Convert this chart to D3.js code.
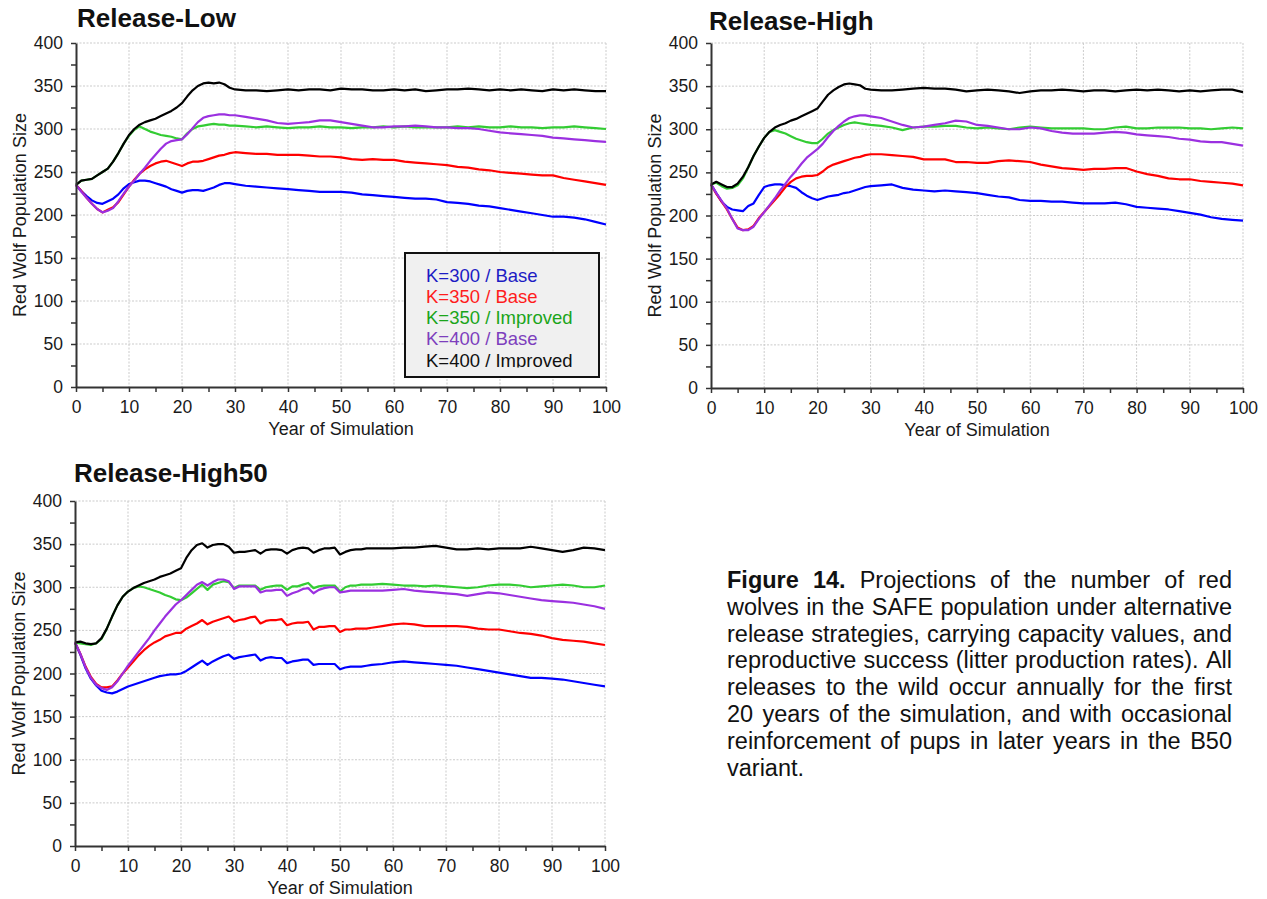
<!DOCTYPE html>
<html>
<head>
<meta charset="utf-8">
<script src="https://cdn.jsdelivr.net/npm/d3@7"></script>
<style>
  html, body { margin: 0; padding: 0; background: #fff; }
  svg { display: block; font-family: "Liberation Sans", Arial, sans-serif; }
</style>
</head>
<body>
<div id="canvas"></div>
<script>
"use strict";

/* drawing size */
const svgWidth = 1267;
const svgHeight = 899;

/* ---- data ---- */
const seriesNames = ["K=300 / Base", "K=350 / Base", "K=350 / Improved", "K=400 / Base", "K=400 / Improved"];
const xTickValues = [0, 10, 20, 30, 40, 50, 60, 70, 80, 90, 100];
const yTickValues = [0, 50, 100, 150, 200, 250, 300, 350, 400];

// years for Release-Low and Release-High (yearly to 30, then every 2 years)
const yearsA = [0,1,2,3,4,5,6,7,8,9,10,11,12,13,14,15,16,17,18,19,20,21,22,23,24,25,26,27,28,29,30,
  32,34,36,38,40,42,44,46,48,50,52,54,56,58,60,62,64,66,68,70,72,74,76,78,80,82,84,86,88,90,92,94,96,98,100];
// years for Release-High50 (yearly to 55, then every 2 years)
const yearsB = [0,1,2,3,4,5,6,7,8,9,10,11,12,13,14,15,16,17,18,19,20,21,22,23,24,25,26,27,28,29,
  30,31,32,33,34,35,36,37,38,39,40,41,42,43,44,45,46,47,48,49,50,51,52,53,54,55,
  56,58,60,62,64,66,68,70,72,74,76,78,80,82,84,86,88,90,92,94,96,98,100];

// Release-Low
const lowBlue = [235,228,222,217,214,213,216,219,224,231,236,238,240,240,239,237,235,233,230,228,226,228,229,229,228,230,232,235,237,237,236,
  234,233,232,231,230,229,228,227,227,227,226,224,223,222,221,220,219,219,218,215,214,213,211,210,208,206,204,202,200,198,198,197,195,192,189];
const lowRed = [235,228,220,213,207,203,206,209,215,224,233,241,248,253,257,260,262,263,261,259,257,260,262,262,263,265,267,269,270,272,273,
  272,271,271,270,270,270,269,268,268,267,265,264,265,264,264,262,261,260,259,258,256,255,253,252,250,249,248,247,246,246,243,241,239,237,235];
const lowGreen = [235,240,241,242,246,250,254,262,272,283,292,299,303,300,297,295,293,292,291,289,288,295,300,303,304,305,306,305,305,304,304,
  303,302,303,302,301,302,302,303,302,302,301,302,302,303,302,303,302,302,302,302,303,302,303,302,302,303,302,302,301,302,302,303,302,301,300];
const lowPurple = [235,227,220,213,207,203,205,208,216,225,233,240,248,255,263,270,277,283,286,287,288,294,301,308,313,315,316,317,317,316,316,
  314,312,310,307,306,307,308,310,310,308,306,304,302,302,303,303,304,303,302,302,301,301,300,298,296,295,294,293,292,290,289,288,287,286,285];
const lowBlack = [235,240,241,242,246,250,254,262,272,283,293,300,305,308,310,312,315,318,321,325,330,338,345,350,353,354,353,354,352,348,346,
  345,345,344,345,346,345,346,346,345,347,346,346,345,345,346,345,346,344,345,346,346,347,346,345,346,345,346,345,344,346,345,346,345,344,344];

// Release-High
const highBlue = [236,226,216,210,207,206,205,211,214,224,233,235,236,236,235,234,232,227,223,220,218,220,222,223,224,226,227,229,231,233,234,
  235,236,232,230,229,228,229,228,227,226,224,222,221,218,217,217,216,216,215,214,214,214,215,213,210,209,208,207,205,203,201,198,196,195,194];
const highRed = [236,225,216,207,196,186,183,184,188,197,204,211,218,225,233,239,243,245,246,246,247,251,256,259,261,263,265,267,268,270,271,
  271,270,269,268,265,265,265,262,262,261,261,263,264,263,262,259,257,255,254,253,254,254,255,255,251,248,246,243,242,242,240,239,238,237,235];
const highGreen = [236,238,234,231,232,235,243,256,269,280,290,297,299,297,295,292,289,287,285,284,284,289,295,299,302,305,307,308,307,306,305,
  304,302,299,302,303,303,304,304,302,301,302,301,300,302,303,302,301,301,301,301,300,300,302,303,301,301,302,302,302,301,301,300,301,302,301];
const highPurple = [236,226,217,208,196,185,183,183,187,196,204,212,220,229,237,245,252,260,267,272,277,283,291,298,304,309,313,315,316,316,315,
  313,309,305,302,303,305,307,310,309,305,304,302,300,300,302,301,298,296,295,295,295,296,297,296,294,293,292,291,289,288,286,285,285,283,281];
const highBlack = [236,239,236,233,233,237,245,256,269,280,290,297,302,305,307,310,312,315,318,321,324,332,340,345,349,352,353,352,351,347,346,
  345,345,346,347,348,347,347,346,344,345,346,345,344,342,344,345,345,346,345,344,345,345,344,345,346,345,346,345,344,345,344,345,346,346,343];

// Release-High50
const h50Blue = [236,222,206,194,186,180,178,177,179,182,185,187,189,191,193,195,197,198,199,199,
  200,203,207,211,215,210,214,217,220,222,217,219,220,221,222,215,218,219,218,218,
  212,214,215,216,216,210,211,211,211,211,205,207,208,208,208,209,
  210,211,213,214,213,212,211,210,209,207,205,203,201,199,197,195,195,194,193,191,189,187,185];
const h50Red = [236,223,208,196,188,184,184,185,192,200,207,214,221,227,232,236,239,243,245,247,
  247,252,255,258,262,257,260,262,264,266,260,262,263,265,266,258,261,262,262,263,
  256,258,259,259,260,251,254,254,255,255,248,251,251,252,252,252,
  253,255,257,258,257,255,255,255,255,254,252,251,251,249,247,246,244,241,239,238,237,235,233];
const h50Green = [236,235,234,233,235,240,252,266,279,289,295,299,301,300,298,296,294,291,289,286,
  285,288,293,298,303,297,303,305,307,306,299,302,302,302,302,297,300,301,302,302,
  297,301,301,303,305,299,301,302,302,302,295,300,302,302,303,303,
  303,304,303,302,302,301,302,301,300,299,300,302,303,303,302,300,301,302,303,302,300,300,302];
const h50Purple = [236,223,207,195,187,183,181,184,191,200,209,217,225,233,241,250,258,266,273,280,
  285,291,297,303,306,302,306,309,309,307,298,301,301,301,301,294,296,296,297,297,
  290,293,295,298,299,293,297,299,300,300,294,295,296,296,296,296,
  296,296,297,298,296,295,294,293,292,290,292,294,293,291,289,287,285,284,283,282,280,278,275];
const h50Black = [236,237,235,234,235,241,252,266,279,289,295,299,302,305,307,309,312,314,316,319,
  322,334,343,349,351,346,349,350,350,347,340,341,341,342,343,339,343,344,344,343,
  339,343,345,346,345,340,343,345,345,346,338,341,343,344,344,345,
  345,345,345,346,346,347,348,346,344,344,345,344,345,345,345,347,345,343,341,343,346,345,343];

const captionLines = [
  "Figure 14. Projections of the number of red",
  "wolves in the SAFE population under alternative",
  "release strategies, carrying capacity values, and",
  "reproductive success (litter production rates). All",
  "releases to the wild occur annually for the first",
  "20 years of the simulation, and with occasional",
  "reinforcement of pups in later years in the B50",
  "variant."
];

/* ---- styles ---- */
const lineColors = ["#0000ff", "#ff0000", "#33cc33", "#9b30e0", "#000000"];
const legendColors = ["#1c1cc4", "#ff1c1c", "#1aa51a", "#7d3fbd", "#111111"];

const panels = [
  { title: "Release-Low", years: yearsA, series: [lowBlue, lowRed, lowGreen, lowPurple, lowBlack],
    x0: 76, x1: 606, yTop: 43, yBottom: 387, titleX: 77, titleY: 27, legend: true },
  { title: "Release-High", years: yearsA, series: [highBlue, highRed, highGreen, highPurple, highBlack],
    x0: 711, x1: 1243, yTop: 43, yBottom: 388, titleX: 709, titleY: 30, legend: false },
  { title: "Release-High50", years: yearsB, series: [h50Blue, h50Red, h50Green, h50Purple, h50Black],
    x0: 75, x1: 605, yTop: 501, yBottom: 846, titleX: 74, titleY: 482, legend: false }
];

d3.select("#canvas").selectAll("*").remove();

const svg = d3.select("#canvas")
  .append("svg")
  .attr("width", svgWidth)
  .attr("height", svgHeight);

svg.append("defs").append("clipPath")
  .attr("id", "legendClip")
  .append("rect")
  .attr("x", 405).attr("y", 253).attr("width", 194).attr("height", 114.5);

function drawPanel(p) {
  const x = d3.scaleLinear().domain([0, 100]).range([p.x0, p.x1]);
  const y = d3.scaleLinear().domain([0, 400]).range([p.yBottom, p.yTop]);
  const g = svg.append("g");

  // dotted grid
  g.selectAll("line.hgrid")
    .data(yTickValues.filter(v => v > 0))
    .enter().append("line")
    .attr("x1", p.x0).attr("x2", p.x1)
    .attr("y1", d => y(d)).attr("y2", d => y(d))
    .attr("stroke", "#cbcbcb").attr("stroke-width", 1)
    .attr("stroke-dasharray", "2,1.5");

  g.selectAll("line.vgrid")
    .data(xTickValues.filter(v => v > 0))
    .enter().append("line")
    .attr("x1", d => x(d)).attr("x2", d => x(d))
    .attr("y1", p.yTop).attr("y2", p.yBottom)
    .attr("stroke", "#cbcbcb").attr("stroke-width", 1)
    .attr("stroke-dasharray", "2,1.5");

  // series
  const line = d3.line()
    .x((d, i) => x(p.years[i]))
    .y(d => y(d));

  p.series.forEach((s, k) => {
    g.append("path")
      .datum(s)
      .attr("d", line)
      .attr("fill", "none")
      .attr("stroke", lineColors[k])
      .attr("stroke-width", 2.2)
      .attr("stroke-linejoin", "round");
  });

  // axes
  const yAxis = d3.axisLeft(y)
    .tickValues(d3.range(0, 401, 25))
    .tickFormat(d => d % 50 === 0 ? d : "")
    .tickSize(5).tickSizeOuter(0).tickPadding(8);
  const xAxis = d3.axisBottom(x)
    .tickValues(d3.range(0, 101, 5))
    .tickFormat(d => d % 10 === 0 ? d : "")
    .tickSize(5).tickSizeOuter(0).tickPadding(9);

  const gy = g.append("g").attr("transform", `translate(${p.x0},0)`).call(yAxis);
  const gx = g.append("g").attr("transform", `translate(0,${p.yBottom})`).call(xAxis);

  [gx, gy].forEach(ax => {
    ax.select(".domain").attr("stroke", "#333").attr("stroke-width", 2);
    ax.selectAll(".tick line").attr("stroke", "#333").attr("stroke-width", 1.5);
    ax.selectAll(".tick text")
      .attr("fill", "#1a1a1a")
      .attr("font-size", "17.5px")
      .attr("font-family", "'Liberation Sans', Arial, sans-serif");
  });

  // axis titles
  g.append("text")
    .attr("x", (p.x0 + p.x1) / 2)
    .attr("y", p.yBottom + 48)
    .attr("text-anchor", "middle")
    .attr("font-size", "18px")
    .attr("fill", "#1a1a1a")
    .text("Year of Simulation");

  g.append("text")
    .attr("transform", `translate(${p.x0 - 50},${(p.yTop + p.yBottom) / 2}) rotate(-90)`)
    .attr("text-anchor", "middle")
    .attr("font-size", "18px")
    .attr("fill", "#1a1a1a")
    .text("Red Wolf Population Size");

  // panel title
  g.append("text")
    .attr("x", p.titleX)
    .attr("y", p.titleY)
    .attr("font-size", "26px")
    .attr("font-weight", "bold")
    .attr("fill", "#111")
    .text(p.title);

  if (p.legend) {
    const lg = g.append("g");
    lg.append("rect")
      .attr("x", 405).attr("y", 253)
      .attr("width", 194).attr("height", 124)
      .attr("fill", "#f0f0f0")
      .attr("stroke", "#111")
      .attr("stroke-width", 2);
    const lt = lg.append("g").attr("clip-path", "url(#legendClip)");
    seriesNames.forEach((name, i) => {
      lt.append("text")
        .attr("x", 426)
        .attr("y", 281.5 + i * 21.3)
        .attr("font-size", "18.5px")
        .attr("fill", legendColors[i])
        .text(name);
    });
  }
}

panels.forEach(drawPanel);

// caption, justified
const capX = 727, capW = 505, capY0 = 588, capLH = 26.8, capSize = 23.5;
captionLines.forEach((ln, i) => {
  const words = ln.split(" ");
  const nodes = words.map((w, j) => svg.append("text")
    .attr("x", 0)
    .attr("y", capY0 + i * capLH)
    .attr("font-size", capSize + "px")
    .attr("font-weight", (i === 0 && j < 2) ? "bold" : "normal")
    .attr("fill", "#111")
    .text(w));
  const widths = nodes.map(n => n.node().getComputedTextLength());
  const total = d3.sum(widths);
  const last = i === captionLines.length - 1;
  const gap = (last || words.length < 2) ? capSize * 0.278 : (capW - total) / (words.length - 1);
  let cx = capX;
  nodes.forEach((n, j) => {
    n.attr("x", cx);
    cx += widths[j] + gap;
  });
});
</script>
</body>
</html>
